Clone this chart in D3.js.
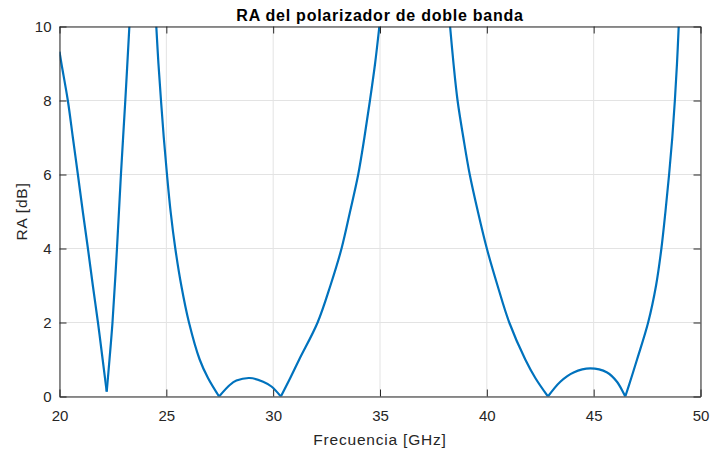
<!DOCTYPE html>
<html><head><meta charset="utf-8">
<script src="https://cdn.jsdelivr.net/npm/d3@7"></script>
<style>body{margin:0;background:#fff}svg{display:block}text{font-family:"Liberation Sans",Arial,Helvetica,sans-serif}</style>
</head><body>
<svg id="c" width="710" height="452"></svg>
<script>
const title = "RA del polarizador de doble banda";
const xLabel = "Frecuencia [GHz]";
const yLabel = "RA [dB]";
const xTicks = [20,25,30,35,40,45,50];
const yTicks = [0,2,4,6,8,10];
const freq = [
  20,20.09,20.39,20.625,20.86,21.09,21.33,21.56,21.80,22.02,22.21,
  22.34,22.48,22.69,22.875,23.08,23.27,23.9,
  24.53,24.63,24.75,24.88,25.03,25.2,25.42,25.70,26.06,26.56,26.95,27.47,
  27.97,28.28,28.9,29.53,29.92,30.36,
  30.8,31.22,32.08,32.68,33.2,33.6,33.98,34.27,34.53,34.77,34.97,36.6,
  38.28,38.44,38.63,38.9,39.2,39.58,40.0,40.5,41.05,41.8,42.27,42.86,
  43.44,44.06,44.84,45.63,46.09,46.48,
  46.76,47.03,47.55,47.92,48.17,48.36,48.53,48.68,48.8,48.9,48.98];
const ra = [
  9.32,9,8,7,6,5,4,3,2,1,0.13,
  1,2,4,6,8,10,null,
  10,9,8,7,6,5,4,3,2,1,0.5,0,
  0.31,0.43,0.5,0.40,0.27,0,
  0.5,1,2,3,4,5,6,7,8,9,10,null,
  10,9,8,7,6,5,4,3,2,1,0.5,0,
  0.40,0.65,0.76,0.65,0.40,0,
  0.5,1,2,3,4,5,6,7,8,9,10];

const svg = d3.select("#c");
const x = d3.scaleLinear().domain([20,50]).range([59.5,700.5]);
const y = d3.scaleLinear().domain([0,10]).range([396.5,26.5]);
const axisCol = "#262626";
const font = '"Liberation Sans",Arial,Helvetica,sans-serif';

// grid
svg.append("g").selectAll("line").data(xTicks).join("line")
  .attr("x1",d=>x(d)).attr("x2",d=>x(d)).attr("y1",y(0)).attr("y2",y(10))
  .attr("stroke","#e3e3e3").attr("stroke-width",1);
svg.append("g").selectAll("line").data(yTicks).join("line")
  .attr("x1",x(20)).attr("x2",x(50)).attr("y1",d=>y(d)).attr("y2",d=>y(d))
  .attr("stroke","#e3e3e3").attr("stroke-width",1);

// data line
svg.append("clipPath").attr("id","clip").append("rect")
  .attr("x",x(20)).attr("y",y(10)).attr("width",x(50)-x(20)).attr("height",y(0)-y(10));
const pts = freq.map((f,i)=>({f, v: ra[i]}));
const pieces = []; let cur = [];
pts.forEach((p,i)=>{
  if (p.v === null) { if (cur.length) pieces.push(cur); cur = []; return; }
  cur.push(p);
  const prev = pts[i-1], next = pts[i+1];
  if (prev && next && prev.v !== null && next.v !== null && p.v < prev.v && p.v < next.v) {
    pieces.push(cur); cur = [p];
  }
});
if (cur.length) pieces.push(cur);
const line = d3.line().x(d=>x(d.f)).y(d=>y(d.v)).curve(d3.curveCatmullRom.alpha(0.5));
svg.append("g").attr("clip-path","url(#clip)").selectAll("path").data(pieces).join("path")
  .attr("d",line).attr("fill","none").attr("stroke","#0072BD").attr("stroke-width",2.2)
  .attr("stroke-linejoin","round");

// axes (inner ticks, box)
const xb = svg.append("g").attr("transform",`translate(0,${y(0)})`)
  .call(d3.axisBottom(x).tickValues(xTicks).tickSizeInner(-7).tickSizeOuter(0).tickPadding(14));
const xt = svg.append("g").attr("transform",`translate(0,${y(10)})`)
  .call(d3.axisTop(x).tickValues(xTicks).tickSizeInner(-7).tickSizeOuter(0).tickFormat(""));
const yl = svg.append("g").attr("transform",`translate(${x(20)},0)`)
  .call(d3.axisLeft(y).tickValues(yTicks).tickSizeInner(-7).tickSizeOuter(0).tickPadding(8));
const yr = svg.append("g").attr("transform",`translate(${x(50)},0)`)
  .call(d3.axisRight(y).tickValues(yTicks).tickSizeInner(-7).tickSizeOuter(0).tickFormat(""));
[xb,xt,yl,yr].forEach(g=>{
  g.selectAll("path,line").attr("stroke",axisCol).attr("stroke-width",1);
  g.selectAll("text").attr("fill",axisCol).style("font-size","15px").style("font-family",font);
});

svg.append("text").attr("x",(x(20)+x(50))/2).attr("y",21).attr("text-anchor","middle")
  .style("font-size","16px").style("font-weight","bold").style("letter-spacing","0.75px")
  .attr("fill","#000").text(title);
svg.append("text").attr("x",(x(20)+x(50))/2).attr("y",445).attr("text-anchor","middle")
  .style("font-size","15.5px").style("letter-spacing","0.8px").attr("fill",axisCol).text(xLabel);
svg.append("text").attr("transform",`translate(26.5,${(y(0)+y(10))/2}) rotate(-90)`).attr("text-anchor","middle")
  .style("font-size","15.5px").style("letter-spacing","0.8px").attr("fill",axisCol).text(yLabel);
</script>
</body></html>
